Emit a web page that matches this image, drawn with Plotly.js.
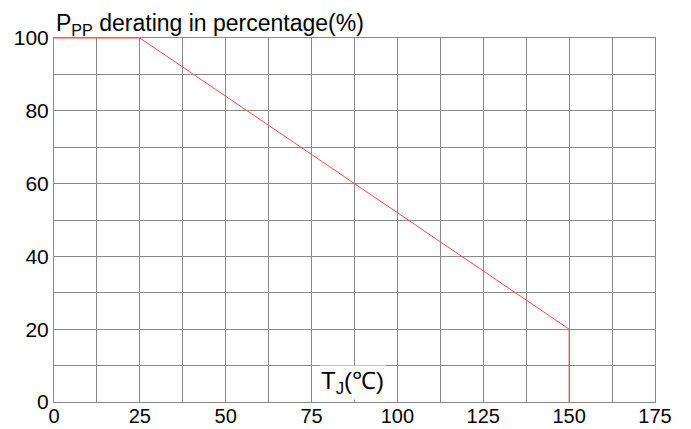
<!DOCTYPE html>
<html><head><meta charset="utf-8">
<script src="https://cdn.plot.ly/plotly-3.0.1.min.js"></script>
<style>body{margin:0;background:#fff}#c{width:691px;height:429px}</style>
</head><body><div id="c"></div>
<script>
const tempC = [0, 25, 150, 150];
const deratingPct = [100, 100, 20, 0];
const xTicks = [0, 25, 50, 75, 100, 125, 150, 175];
const yTicks = [0, 20, 40, 60, 80, 100];

const fontFam = '"Liberation Sans", Arial, sans-serif';
const gridCol = '#8a8a8a';

Plotly.newPlot('c', [{
  x: tempC, y: deratingPct, mode: 'lines', type: 'scatter',
  line: {color: '#e8504a', width: 1}, hoverinfo: 'skip'
}], {
  width: 691, height: 429,
  margin: {l: 53.5, r: 36, t: 38, b: 27},
  paper_bgcolor: '#fff', plot_bgcolor: '#fff',
  showlegend: false,
  xaxis: {
    range: [0, 175], tickvals: xTicks, ticktext: xTicks.map(String),
    showgrid: true, gridcolor: gridCol, gridwidth: 1,
    minor: {dtick: 12.5, tick0: 0, showgrid: true, gridcolor: gridCol, gridwidth: 1},
    showline: true, linecolor: gridCol, linewidth: 1, mirror: true,
    zeroline: false, ticks: '', ticklabelstandoff: -4,
    tickfont: {family: fontFam, size: 20, color: '#000'}
  },
  yaxis: {
    range: [0, 100], tickvals: yTicks, ticktext: yTicks.map(String),
    showgrid: true, gridcolor: gridCol, gridwidth: 1,
    minor: {dtick: 10, tick0: 0, showgrid: true, gridcolor: gridCol, gridwidth: 1},
    showline: true, linecolor: gridCol, linewidth: 1, mirror: true,
    zeroline: false, ticks: '', ticklabelstandoff: 0,
    tickfont: {family: fontFam, size: 21, color: '#000'}
  },
  annotations: [
    {text: 'P<sub>PP</sub> derating in percentage(%)', xref: 'paper', yref: 'paper',
     x: 0.0, y: 1, xanchor: 'left', yanchor: 'bottom', yshift: -3, showarrow: false,
     font: {family: fontFam, size: 23, color: '#000'}},
    {text: 'T<sub>J</sub>(℃)', xref: 'x', yref: 'paper',
     x: 87, y: 0, xanchor: 'center', yanchor: 'bottom', yshift: 2, showarrow: false,
     bgcolor: '#fff', font: {family: fontFam, size: 24, color: '#000'}}
  ]
}, {displayModeBar: false, staticPlot: true});
</script></body></html>
